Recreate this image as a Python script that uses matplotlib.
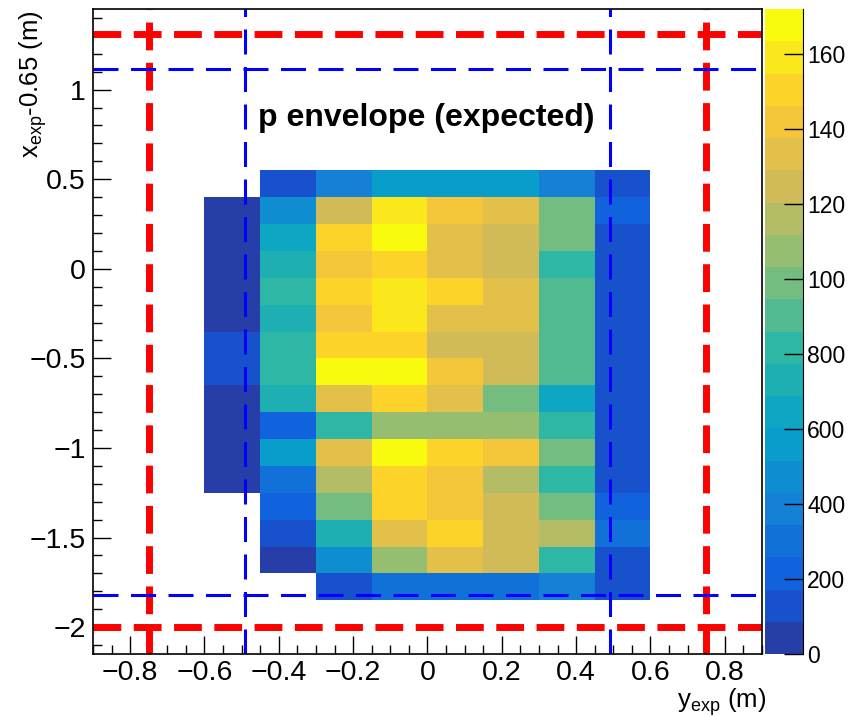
import numpy as np
import matplotlib
matplotlib.use("Agg")
import matplotlib.pyplot as plt
from matplotlib.colors import LinearSegmentedColormap, ListedColormap, BoundaryNorm

plt.rcParams['font.family'] = ['Liberation Sans', 'DejaVu Sans']
plt.rcParams['mathtext.fontset'] = 'custom'
plt.rcParams['mathtext.rm'] = 'Liberation Sans'
plt.rcParams['mathtext.it'] = 'Liberation Sans:italic'
plt.rcParams['lines.scale_dashes'] = False

# bin edges (m)
y_edges = [-0.60, -0.45, -0.30, -0.15, 0.00, 0.15, 0.30, 0.45, 0.60]
x_edges = [0.55, 0.40, 0.25, 0.10, -0.05, -0.20, -0.35, -0.50, -0.65,
           -0.80, -0.95, -1.10, -1.25, -1.40, -1.55, -1.70, -1.85]

# counts per cell, rows top to bottom, columns left to right (0 = empty)
counts = [
    [0,   130,  390,  560,  560,  560,  390,  130],
    [40,  470,  1250, 1590, 1420, 1330, 990,  215],
    [40,  645,  1500, 1690, 1330, 1250, 990,  130],
    [40,  730,  1420, 1500, 1330, 1250, 820,  130],
    [40,  820,  1500, 1590, 1500, 1330, 900,  130],
    [40,  730,  1420, 1590, 1330, 1330, 900,  130],
    [130, 820,  1500, 1500, 1250, 1250, 900,  130],
    [130, 820,  1690, 1690, 1420, 1250, 900,  130],
    [40,  730,  1330, 1500, 1330, 990,  645,  130],
    [40,  215,  820,  1075, 1075, 1075, 820,  130],
    [40,  560,  1330, 1690, 1500, 1420, 990,  130],
    [40,  300,  1160, 1500, 1420, 1160, 820,  130],
    [0,   215,  990,  1500, 1420, 1250, 990,  215],
    [0,   130,  730,  1330, 1500, 1250, 1160, 300],
    [0,   40,   470,  1075, 1330, 1250, 820,  130],
    [0,   0,    130,  300,  300,  300,  390,  130],
]
z_max = 1720
cbar_ticks = [0, 200, 400, 600, 800, 1000, 1200, 1400, 1600]
cbar_labels = ["0", "200", "400", "600", "800", "100", "120", "140", "160"]

# envelope boundaries
red_y = [-0.75, 0.75]
red_x = [-2.0, 1.31]
blue_y = [-0.49, 0.49]
blue_x = [-1.82, 1.115]

# ROOT kBird palette, 20 contour levels
stops = [0.0, 0.125, 0.25, 0.375, 0.5, 0.625, 0.75, 0.875, 1.0]
red = [0.2082, 0.0592, 0.0780, 0.0232, 0.1802, 0.5301, 0.8186, 0.9956, 0.9764]
green = [0.1664, 0.3599, 0.5041, 0.6419, 0.7178, 0.7492, 0.7328, 0.7862, 0.9832]
blue = [0.5293, 0.8684, 0.8385, 0.7914, 0.6425, 0.4662, 0.3499, 0.1968, 0.0539]
bird = LinearSegmentedColormap.from_list(
    "bird", list(zip(stops, zip(red, green, blue))), N=255)
nlev = 20
cmap = ListedColormap([bird(int((k + 0.99) * 255 / nlev)) for k in range(nlev)])
norm = BoundaryNorm(np.linspace(0, z_max, nlev + 1), nlev)

Z = np.ma.masked_equal(np.array(counts, dtype=float), 0)

fig = plt.figure(figsize=(8.49, 7.16), dpi=100)
ax = fig.add_axes([93 / 849, 1 - 654 / 716, 669 / 849, 645 / 716])
cax = fig.add_axes([765 / 849, 1 - 654 / 716, 38 / 849, 645 / 716])

mesh = ax.pcolormesh(y_edges, x_edges, Z, cmap=cmap, norm=norm,
                     edgecolors='face', linewidth=0)

for v in red_y:
    ax.axvline(v, color='red', lw=5, dashes=(20, 9))
for v in red_x:
    ax.axhline(v, color='red', lw=5, dashes=(20, 9))
for v in blue_y:
    ax.axvline(v, color='blue', lw=2.2, dashes=(18, 9))
for v in blue_x:
    ax.axhline(v, color='blue', lw=2.2, dashes=(18, 9))

ax.text(-0.455, 0.84, "p envelope (expected)", fontsize=23, fontweight='bold',
        ha='left', va='center')

ax.set_xlim(-0.9, 0.9)
ax.set_ylim(-2.15, 1.45)
ax.set_xticks(np.arange(-0.8, 0.81, 0.2))
ax.set_xticklabels(["\u22120.8", "\u22120.6", "\u22120.4", "\u22120.2", "0",
                    "0.2", "0.4", "0.6", "0.8"])
ax.set_xticks(np.arange(-0.9, 0.91, 0.05), minor=True)
ax.set_yticks([-2, -1.5, -1, -0.5, 0, 0.5, 1])
ax.set_yticklabels(["\u22122", "\u22121.5", "\u22121", "\u22120.5", "0", "0.5", "1"])
ax.set_yticks(np.arange(-2.1, 1.45, 0.1), minor=True)
ax.tick_params(which='both', direction='in', labelsize=20.5, top=False, right=False)
ax.tick_params(which='major', length=13, width=1)
ax.tick_params(which='minor', length=6.5, width=1)
ax.tick_params(axis='x', pad=4)
ax.tick_params(axis='y', pad=5)
for s in ax.spines.values():
    s.set_linewidth(1.2)

fig.text(33 / 849, 1 - 10 / 716, r"x$_{\mathrm{exp}}$-0.65 (m)", rotation=90,
         ha='center', va='top', fontsize=18.5)
fig.text(766 / 849, 1 - 702 / 716, r"y$_{\mathrm{exp}}$ (m)",
         ha='right', va='center', fontsize=18.5)

cb = fig.colorbar(mesh, cax=cax)
cb.outline.set_visible(False)
cax.spines['right'].set_visible(True)
cax.set_yticks(cbar_ticks)
cax.set_yticklabels(cbar_labels)
cax.tick_params(axis='y', direction='in', length=14, width=1, labelsize=16.5, pad=3)
cax.minorticks_off()

fig.savefig("out.png", dpi=100)
